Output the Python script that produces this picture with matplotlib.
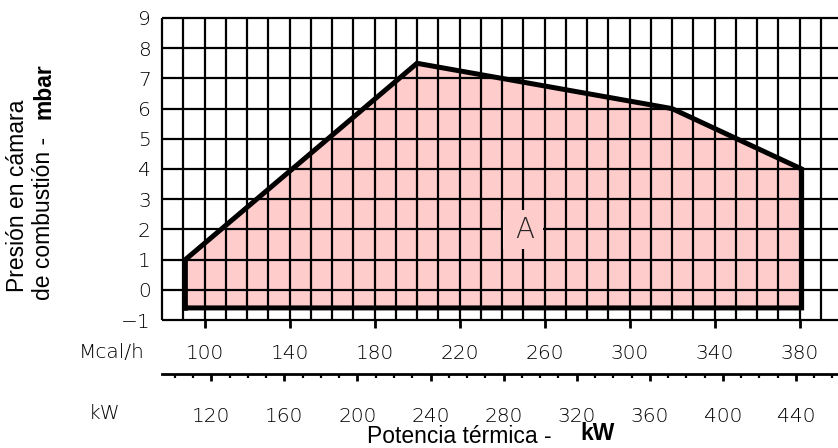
import numpy as np
import matplotlib.pyplot as plt
from matplotlib.patches import Rectangle

# campo de trabajo del quemador: potencia (Mcal/h) / presion en camara (mbar)
mcal = [91, 91, 200, 320, 381, 381]
mbar = [-0.6, 1, 7.5, 6, 4, -0.6]

mcal_ticks = [100, 140, 180, 220, 260, 300, 340, 380]
kw_ticks = [120, 160, 200, 240, 280, 320, 360, 400, 440]
mbar_ticks = list(range(-1, 10))
KW_PER_MCAL = 1.163

tick_font = dict(family=['DejaVu Sans'], weight='light')
label_font = ['Liberation Sans', 'DejaVu Sans']

fig = plt.figure(figsize=(8.38, 4.48), dpi=100)
ax = fig.add_axes([162/838, 1-320/448, 680/838, 302/448])
ax.set_xlim(80, 400)
ax.set_ylim(-1, 9)

# zona rosa y contorno
ax.fill(mcal, mbar, color='#ffcccc', lw=0, zorder=1)
ax.plot(mcal + [mcal[0]], mbar + [mbar[0]], color='black', lw=3.6,
        solid_joinstyle='miter', zorder=5, clip_on=False)

# cuadricula
ax.vlines(np.arange(80, 401, 10), -1, 9, color='black', lw=1.6, zorder=2, clip_on=False)
ax.hlines(mbar_ticks, 80, 400, color='black', lw=1.6, zorder=2, clip_on=False)
for s in ax.spines.values():
    s.set_visible(False)

ax.add_patch(Rectangle((240.6, 1.355), 18.8, 1.29, facecolor='#ffcccc',
                       edgecolor='none', zorder=3))
ax.text(250.5, 1.97, 'A', ha='center', va='center', fontsize=20,
        color='#222222', zorder=4, fontfamily='DejaVu Sans', fontweight='light')

ax.set_xticks(mcal_ticks)
ax.set_yticks(mbar_ticks)
ax.tick_params(axis='x', length=6, width=2, direction='out', pad=11.5, labelsize=14.5)
ax.tick_params(axis='y', length=0, pad=8, labelsize=14.5)
for lab in ax.get_xticklabels() + ax.get_yticklabels():
    lab.set_fontfamily(tick_font['family'])
    lab.set_fontweight(tick_font['weight'])

# eje secundario en kW
sec = ax.secondary_xaxis(-0.179, functions=(lambda m: m * KW_PER_MCAL,
                                            lambda k: k / KW_PER_MCAL))
sec.set_xticks(kw_ticks)
sec.set_xticks(np.arange(100, 470, 10), minor=True)
sec.spines['bottom'].set_linewidth(2)
sec.tick_params(which='major', length=5, width=2, pad=19, labelsize=14.5)
sec.tick_params(which='minor', length=3, width=1.6)
for lab in sec.get_xticklabels():
    lab.set_fontfamily(tick_font['family'])
    lab.set_fontweight(tick_font['weight'])

fig.text(145/838, 1-352/448, 'Mcal/h', ha='right', va='center', fontsize=14.5,
         fontfamily='DejaVu Sans', fontweight='light')
fig.text(120/838, 1-413/448, 'kW', ha='right', va='center', fontsize=14.5,
         fontfamily='DejaVu Sans', fontweight='light')

# titulos de ejes
fig.text(552/838, 0.001, 'Potencia térmica -', ha='right', va='bottom',
         fontsize=16.5, fontfamily=label_font)
fig.text(580/838, 1-440/448, 'kW', ha='left', va='baseline',
         fontsize=16.5, fontfamily=label_font, fontweight='bold')
fig.text(24/838, 1-292/448, 'Presión en cámara', rotation=90, rotation_mode='anchor',
         ha='left', va='baseline', fontsize=16.5, fontfamily=label_font)
fig.text(50/838, 1-300/448, 'de combustión -', rotation=90, rotation_mode='anchor',
         ha='left', va='baseline', fontsize=16.5, fontfamily=label_font)
fig.text(50/838, 1-119/448, 'mbar', rotation=90, rotation_mode='anchor',
         ha='left', va='baseline', fontsize=16.5, fontfamily=label_font,
         fontweight='bold')

fig.savefig('out.png', dpi=100)
